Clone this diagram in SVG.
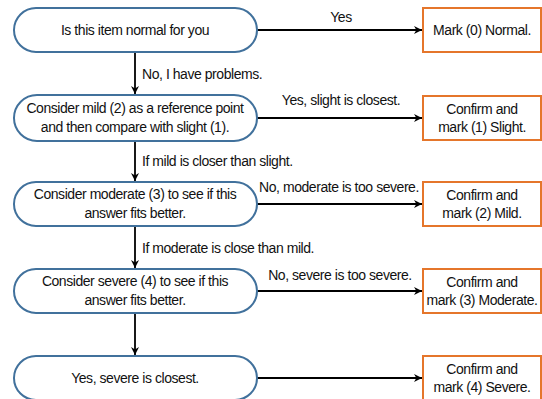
<svg xmlns="http://www.w3.org/2000/svg" width="542" height="399" viewBox="0 0 542 399">
<defs>
<style>
text{font-family:"Liberation Sans",Arial,sans-serif;font-size:14px;fill:#111;letter-spacing:-0.45px}
.c{text-anchor:middle}
.node{fill:#fff;stroke:#41719C;stroke-width:2}
.box{fill:#fff;stroke:#E5762B;stroke-width:2}
.edge{stroke:#000;stroke-width:1.8;fill:none;marker-end:url(#ah)}
</style>
<marker id="ah" viewBox="0 0 10 10" refX="10" refY="5" markerWidth="8" markerHeight="8" markerUnits="userSpaceOnUse" orient="auto">
<path d="M0,0 L10,5 L0,10 L3,5 z" fill="#000"/>
</marker>
</defs>
<rect width="542" height="399" fill="#fff"/>
<g id="connectors">
<line class="edge" x1="257" y1="30" x2="422" y2="30"/>
<line class="edge" x1="257" y1="118" x2="422" y2="118"/>
<line class="edge" x1="257" y1="204" x2="422" y2="204"/>
<line class="edge" x1="257" y1="291" x2="422" y2="291"/>
<line class="edge" x1="257" y1="378" x2="422" y2="378"/>
<line class="edge" x1="135" y1="52" x2="135" y2="94"/>
<line class="edge" x1="135" y1="141" x2="135" y2="181"/>
<line class="edge" x1="135" y1="226" x2="135" y2="268"/>
<line class="edge" x1="135" y1="313" x2="135" y2="355"/>
<text x="341" y="22" class="c">Yes</text>
<text x="142" y="79">No, I have problems.</text>
<text x="341" y="105" class="c">Yes, slight is closest.</text>
<text x="339" y="192" class="c">No, moderate is too severe.</text>
<text x="142" y="166">If mild is closer than slight.</text>
<text x="142" y="253">If moderate is close than mild.</text>
<text x="340" y="280" class="c">No, severe is too severe.</text>
</g>
<g id="n1"><rect class="node" x="14" y="8" width="243" height="44" rx="22" ry="22"/><text x="135" y="35" class="c">Is this item normal for you</text></g>
<g id="n2"><rect class="node" x="14" y="95" width="243" height="46" rx="23" ry="23"/><text x="135" y="113" class="c">Consider mild (2) as a reference point</text><text x="135" y="132" class="c">and then compare with slight (1).</text></g>
<g id="n3"><rect class="node" x="14" y="182" width="243" height="44" rx="22" ry="22"/><text x="135" y="199" class="c">Consider moderate (3) to see if this</text><text x="135" y="218" class="c">answer fits better.</text></g>
<g id="n4"><rect class="node" x="14" y="269" width="243" height="44" rx="22" ry="22"/><text x="135" y="286" class="c">Consider severe (4) to see if this</text><text x="135" y="305" class="c">answer fits better.</text></g>
<g id="n5"><rect class="node" x="14" y="356" width="243" height="44" rx="22" ry="22"/><text x="135" y="383" class="c">Yes, severe is closest.</text></g>
<g id="b1"><rect class="box" x="423" y="8" width="118" height="44"/><text x="482" y="35" class="c">Mark (0) Normal.</text></g>
<g id="b2"><rect class="box" x="423" y="96" width="118" height="44"/><text x="482" y="114" class="c">Confirm and</text><text x="482" y="132" class="c">mark (1) Slight.</text></g>
<g id="b3"><rect class="box" x="423" y="182" width="118" height="44"/><text x="482" y="200" class="c">Confirm and</text><text x="482" y="218" class="c">mark (2) Mild.</text></g>
<g id="b4"><rect class="box" x="423" y="269" width="118" height="44"/><text x="482" y="287" class="c">Confirm and</text><text x="482" y="305" class="c">mark (3) Moderate.</text></g>
<g id="b5"><rect class="box" x="423" y="356" width="118" height="44"/><text x="482" y="374" class="c">Confirm and</text><text x="482" y="392" class="c">mark (4) Severe.</text></g>
</svg>
